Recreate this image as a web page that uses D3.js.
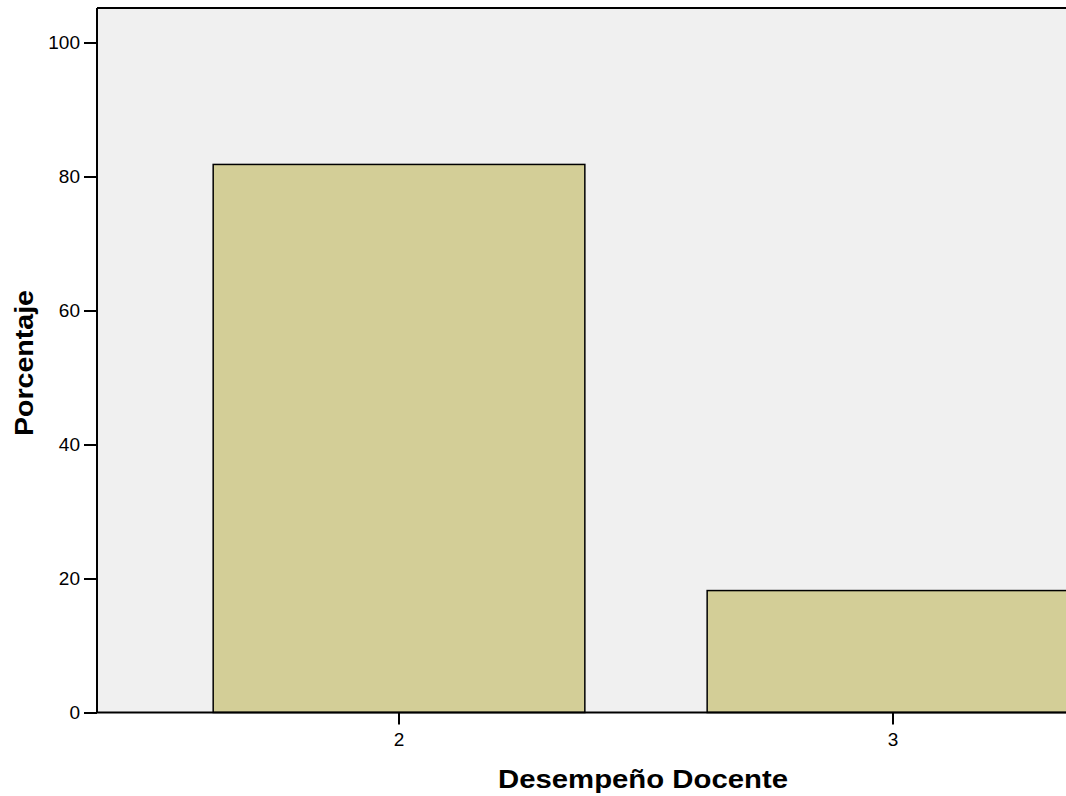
<!DOCTYPE html>
<html>
<head>
<meta charset="utf-8">
<script src="https://cdn.jsdelivr.net/npm/d3@7"></script>
<style>
  html, body { margin: 0; padding: 0; background: #ffffff; overflow: hidden; }
  svg { display: block; }
</style>
</head>
<body>
<svg id="chart" width="1066" height="796"></svg>
<script>
const categories = ["2", "3"];
const percentages = [81.8, 18.2];
const yTicks = [0, 20, 40, 60, 80, 100];
const xTitle = "Desempeño Docente";
const yTitle = "Porcentaje";

const svg = d3.select("#chart");
const plotLeft = 97, plotRight = 1195, plotTop = 8, plotBottom = 712.5;

const x = d3.scaleBand().domain(categories).range([plotLeft, plotRight])
  .paddingInner(0.2476).paddingOuter(0.2352);
const y = d3.scaleLinear().domain([0, 100]).range([plotBottom, plotBottom - 670]);

const font = "Arial, 'Liberation Sans', Helvetica, sans-serif";

// plot background
svg.append("rect")
  .attr("x", plotLeft).attr("y", plotTop)
  .attr("width", plotRight - plotLeft).attr("height", plotBottom - plotTop)
  .attr("fill", "#f0f0f0");

// bars
svg.selectAll("rect.bar").data(categories).enter().append("rect")
  .attr("class", "bar")
  .attr("x", d => x(d))
  .attr("y", (d, i) => y(percentages[i]))
  .attr("width", x.bandwidth())
  .attr("height", (d, i) => y(0) - y(percentages[i]))
  .attr("fill", "#d3ce97")
  .attr("stroke", "#000")
  .attr("stroke-width", 1.5);

// top frame line
svg.append("line").attr("x1", plotLeft).attr("x2", plotRight).attr("y1", plotTop).attr("y2", plotTop)
  .attr("stroke", "#000").attr("stroke-width", 2);

// y axis
const yAxis = d3.axisLeft(y).tickValues(yTicks).tickSize(13).tickPadding(4);
const gy = svg.append("g").attr("transform", `translate(${plotLeft},0)`).call(yAxis);
gy.select(".domain").attr("d", `M0,${plotTop}V${plotBottom}`).attr("stroke", "#000").attr("stroke-width", 2);
gy.selectAll(".tick line").attr("stroke", "#000").attr("stroke-width", 2);
gy.selectAll(".tick text").attr("font-family", font).attr("font-size", 19).attr("fill", "#000");

// x axis
const xAxis = d3.axisBottom(x).tickSize(12).tickPadding(8);
const gx = svg.append("g").attr("transform", `translate(0,${plotBottom})`).call(xAxis);
gx.select(".domain").attr("d", `M${plotLeft},0H${plotRight}`).attr("stroke", "#000").attr("stroke-width", 2);
gx.selectAll(".tick line").attr("stroke", "#000").attr("stroke-width", 2);
gx.selectAll(".tick text").attr("font-family", font).attr("font-size", 19).attr("fill", "#000");

// axis titles
svg.append("text")
  .attr("x", 498).attr("y", 788)
  .attr("text-anchor", "start")
  .attr("font-family", font).attr("font-weight", "bold").attr("font-size", 25)
  .attr("textLength", 290).attr("lengthAdjust", "spacingAndGlyphs")
  .attr("fill", "#000")
  .text(xTitle);

svg.append("text")
  .attr("transform", "translate(33,436) rotate(-90)")
  .attr("text-anchor", "start")
  .attr("font-family", font).attr("font-weight", "bold").attr("font-size", 25)
  .attr("textLength", 146).attr("lengthAdjust", "spacingAndGlyphs")
  .attr("fill", "#000")
  .text(yTitle);
</script>
</body>
</html>
